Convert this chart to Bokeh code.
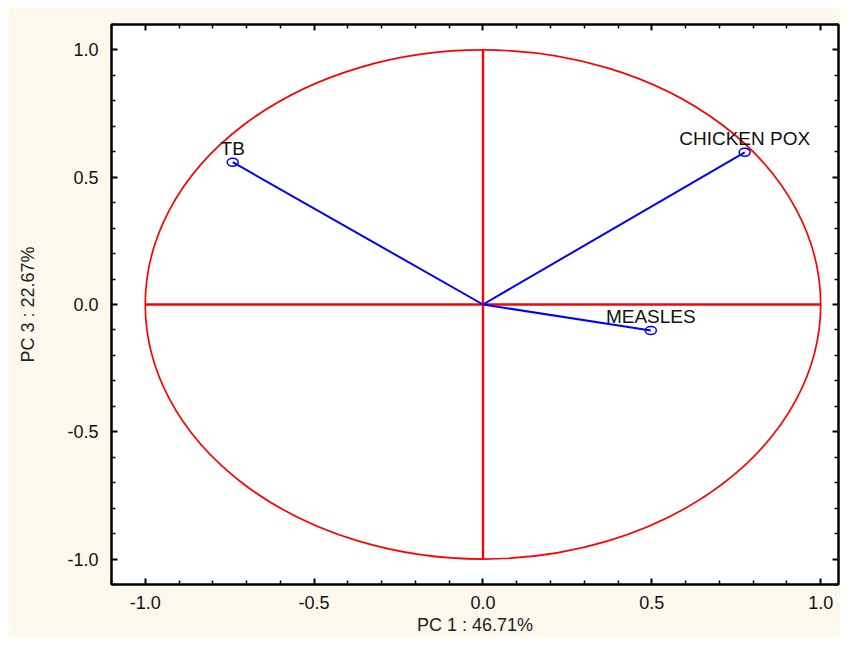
from bokeh.plotting import figure
from bokeh.models import (Range1d, FixedTicker, LinearAxis, CustomJSTickFormatter,
                          ColumnDataSource)
from bokeh.core.properties import value
from bokeh.embed import file_html
from bokeh.resources import INLINE

# ---- data ----
variables = ["TB", "CHICKEN POX", "MEASLES"]
pc1 = [-0.741, 0.775, 0.497]
pc3 = [0.559, 0.598, -0.102]
circle_radius = 1.0
major_ticks = [-1.0, -0.5, 0.0, 0.5, 1.0]
minor_ticks = [-1.1, -0.9, -0.8, -0.7, -0.6, -0.4, -0.3, -0.2, -0.1,
               0.1, 0.2, 0.3, 0.4, 0.6, 0.7, 0.8, 0.9, 1.1]
x_title = "PC 1 : 46.71%"
y_title = "PC 3 : 22.67%"

FONT = "Liberation Sans"
CREAM = "#FDF8EC"

p = figure(width=832, height=629, output_backend="svg", toolbar_location=None,
           x_range=Range1d(-1.1, 1.0528), y_range=Range1d(-1.1, 1.1),
           x_axis_type=None, y_axis_type=None,
           min_border_left=103, min_border_top=16, min_border_right=2,
           min_border_bottom=50)
p.margin = (8, 0, 0, 8)
p.border_fill_color = CREAM
p.background_fill_color = "white"
p.outline_line_color = "black"
p.outline_line_width = 2


def make_axis(label_visible):
    ax = LinearAxis(ticker=FixedTicker(ticks=major_ticks, minor_ticks=minor_ticks))
    ax.axis_line_color = "black"
    ax.axis_line_width = 2
    ax.major_tick_in = 6
    ax.major_tick_out = 0
    ax.minor_tick_in = 4
    ax.minor_tick_out = 0
    ax.major_tick_line_width = 2
    ax.minor_tick_line_width = 1.5
    ax.major_label_text_font = FONT
    ax.major_label_text_font_size = "18px"
    ax.major_label_text_color = "#111111"
    ax.axis_label_text_font = FONT
    ax.axis_label_text_font_size = "18px"
    ax.axis_label_text_font_style = "normal"
    ax.axis_label_text_color = "#222222"
    if not label_visible:
        ax.formatter = CustomJSTickFormatter(code="return ''")
        ax.major_label_standoff = 0
    return ax


xb = make_axis(True)
xb.formatter = CustomJSTickFormatter(code="return tick.toFixed(1)")
xb.major_label_standoff = 11
xb.axis_label = x_title
xb.axis_label_standoff = 3
p.add_layout(xb, "below")

yl = make_axis(True)
yl.formatter = CustomJSTickFormatter(code="return tick.toFixed(1)")
yl.major_label_standoff = 13
yl.axis_label = y_title
yl.axis_label_standoff = 26
p.add_layout(yl, "left")

p.add_layout(make_axis(False), "above")
p.add_layout(make_axis(False), "right")

p.xgrid.ticker = FixedTicker(ticks=major_ticks)
p.ygrid.ticker = FixedTicker(ticks=major_ticks)
for g in (p.xgrid, p.ygrid):
    g.grid_line_color = "#d9d9d9"
    g.grid_line_width = 1

# unit circle
p.ellipse(x=[0], y=[0], width=[2 * circle_radius], height=[2 * circle_radius],
          fill_color=None, line_color="#ff0000", line_width=1.7)
# red axes
p.segment(x0=[-circle_radius, 0], y0=[0, -circle_radius],
          x1=[circle_radius, 0], y1=[0, circle_radius],
          line_color="#ff0000", line_width=2.4)

src = ColumnDataSource(dict(x=pc1, y=pc3, x0=[0] * len(pc1), y0=[0] * len(pc1),
                            name=variables))
p.segment(x0="x0", y0="y0", x1="x", y1="y", source=src,
          line_color="#0000ff", line_width=2)
p.ellipse(x="x", y="y", source=src, width=11, height=8,
          width_units="screen", height_units="screen",
          fill_color=None, line_color="#0000ff", line_width=1.5)
p.text(x="x", y="y", text="name", source=src, text_align="center",
       text_baseline="bottom", y_offset=-3, text_font=value(FONT),
       text_font_size="19px", text_color="#111111")

open("out.html", "w").write(file_html(p, INLINE))
